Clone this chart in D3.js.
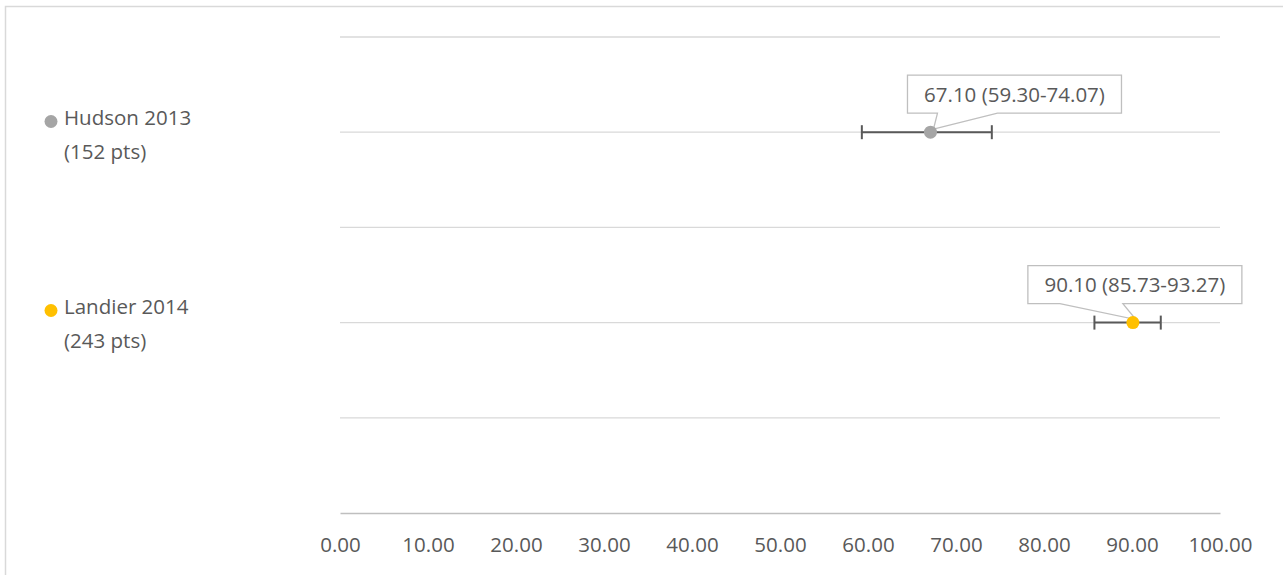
<!DOCTYPE html>
<html>
<head>
<meta charset="utf-8">
<script src="https://cdn.jsdelivr.net/npm/d3@7"></script>
<style>
  html, body { margin: 0; padding: 0; background: #ffffff; }
  svg { display: block; }
  text { font-family: "Open Sans", "Liberation Sans", sans-serif; fill: #595959; }
</style>
</head>
<body>
<svg id="chart" width="1283" height="575"></svg>
<script>
// Studies, with point estimate and confidence interval
const studies = ["Hudson 2013", "Landier 2014"];
const patients = ["(152 pts)", "(243 pts)"];
const estimates = [67.10, 90.10];
const lower = [59.30, 85.73];
const upper = [74.07, 93.27];
const rowPos = [4, 2];
const colors = ["#a5a5a5", "#ffc000"];
const xTicks = [0, 10, 20, 30, 40, 50, 60, 70, 80, 90, 100];
const yGrid = [0, 1, 2, 3, 4, 5];

const svg = d3.select("#chart");
const W = 1283, H = 575;

// Chart frame
svg.append("path")
  .attr("d", `M5.5,${H} V6.5 H${W}`)
  .attr("fill", "none")
  .attr("stroke", "#d9d9d9")
  .attr("stroke-width", 1.5);

const x = d3.scaleLinear().domain([0, 100]).range([340, 1220]);
const y = d3.scaleLinear().domain([0, 5]).range([513, 37]);

// Horizontal gridlines
svg.append("g")
  .selectAll("line")
  .data(yGrid.filter(d => d > 0))
  .join("line")
  .attr("x1", x(0)).attr("x2", x(100))
  .attr("y1", d => y(d)).attr("y2", d => y(d))
  .attr("stroke", "#d9d9d9")
  .attr("stroke-width", 1.3);

// Bottom axis
const xAxis = d3.axisBottom(x)
  .tickValues(xTicks)
  .tickFormat(d3.format(".2f"))
  .tickSize(0)
  .tickPadding(24);
const gx = svg.append("g")
  .attr("transform", `translate(0,${y(0)})`)
  .call(xAxis);
gx.select(".domain").attr("stroke", "#bfbfbf").attr("stroke-width", 1.5);
gx.selectAll(".tick text")
  .attr("fill", "#595959")
  .style("font-family", "'Open Sans', sans-serif")
  .style("font-size", "20.5px");

// Error bars
const eb = svg.append("g");
studies.forEach((s, i) => {
  const cy = y(rowPos[i]);
  eb.append("line")
    .attr("x1", x(lower[i])).attr("x2", x(upper[i]))
    .attr("y1", cy).attr("y2", cy)
    .attr("stroke", "#595959").attr("stroke-width", 2);
  [lower[i], upper[i]].forEach(v => {
    eb.append("line")
      .attr("x1", x(v)).attr("x2", x(v))
      .attr("y1", cy - 7).attr("y2", cy + 7)
      .attr("stroke", "#595959").attr("stroke-width", 2);
  });
});

// Data labels with callout pointers
const labelDx = [84, 2];
const boxW = 214, boxH = 38, boxDy = -38;
const fmt = d3.format(".2f");
studies.forEach((s, i) => {
  const px = x(estimates[i]), py = y(rowPos[i]);
  const cx = px + labelDx[i], cy = py + boxDy;
  const bx = cx - boxW / 2, by = cy - boxH / 2;
  const g = svg.append("g");
  // pointer wedge from box bottom to point
  const baseL = i === 0 ? bx + 30 : bx + 32;
  const baseR = i === 0 ? bx + 90 : bx + 95;
  g.append("path")
    .attr("d", `M${bx},${by} H${bx + boxW} V${by + boxH} H${baseR} L${px + 3},${py - 3} L${baseL},${by + boxH} H${bx} Z`)
    .attr("fill", "#ffffff")
    .attr("stroke", "#bfbfbf")
    .attr("stroke-width", 1.3);
  g.append("text")
    .attr("x", cx).attr("y", cy + 7.5)
    .attr("text-anchor", "middle")
    .style("font-size", "20.5px")
    .text(`${fmt(estimates[i])} (${fmt(lower[i])}-${fmt(upper[i])})`);
});

// Points
svg.append("g")
  .selectAll("circle")
  .data(studies)
  .join("circle")
  .attr("cx", (d, i) => x(estimates[i]))
  .attr("cy", (d, i) => y(rowPos[i]))
  .attr("r", 6.5)
  .attr("fill", (d, i) => colors[i]);

// Legend
const legendY = [121, 310];
const lg = svg.append("g");
studies.forEach((s, i) => {
  lg.append("circle")
    .attr("cx", 51).attr("cy", legendY[i] + 0.5)
    .attr("r", 6.5)
    .attr("fill", colors[i]);
  lg.append("text")
    .attr("x", 64).attr("y", legendY[i] + 4)
    .style("font-size", "20.5px")
    .text(s);
  lg.append("text")
    .attr("x", 64).attr("y", legendY[i] + 38)
    .style("font-size", "20.5px")
    .text(patients[i]);
});
</script>
</body>
</html>
